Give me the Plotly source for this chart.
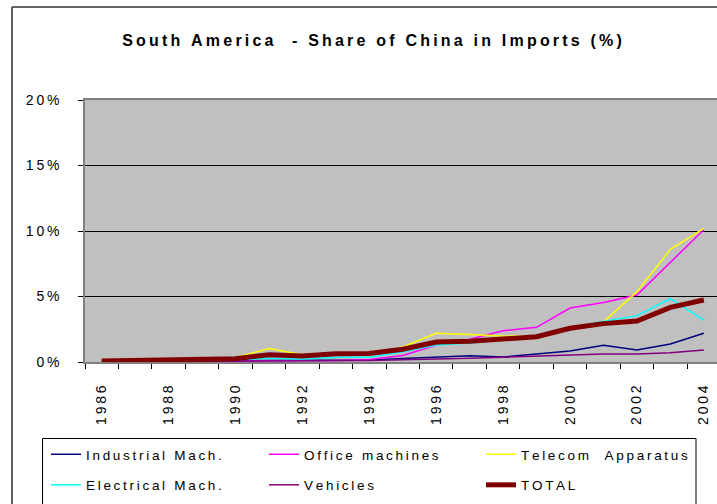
import plotly.graph_objects as go

# Share of China in South American imports, by product group (%)
years = list(range(1986, 2005))

industrial = [0.05, 0.06, 0.07, 0.07, 0.10, 0.12, 0.12, 0.12, 0.15, 0.26,
              0.38, 0.48, 0.38, 0.61, 0.84, 1.27, 0.92, 1.37, 2.19]
office = [0.02, 0.02, 0.03, 0.03, 0.05, 0.10, 0.12, 0.12, 0.20, 0.50,
          1.30, 1.73, 2.39, 2.65, 4.12, 4.55, 5.11, 7.61, 10.10]
telecom = [0.03, 0.05, 0.08, 0.10, 0.35, 1.03, 0.55, 0.60, 0.62, 1.15,
           2.19, 2.09, 1.98, 1.95, 2.55, 3.05, 5.37, 8.60, 10.20]
electrical = [0.03, 0.05, 0.06, 0.08, 0.15, 0.28, 0.22, 0.36, 0.36, 0.78,
              1.30, 1.45, 1.70, 1.95, 2.65, 3.08, 3.54, 4.83, 3.20]
vehicles = [0.02, 0.03, 0.04, 0.04, 0.05, 0.08, 0.08, 0.10, 0.12, 0.18,
            0.22, 0.28, 0.36, 0.43, 0.53, 0.61, 0.61, 0.71, 0.92]
total = [0.08, 0.13, 0.15, 0.15, 0.25, 0.55, 0.45, 0.63, 0.65, 0.97,
         1.52, 1.58, 1.72, 1.93, 2.57, 2.93, 3.13, 4.17, 4.73]

y_ticks = [0, 5, 10, 15, 20]
x_label_years = list(range(1986, 2005, 2))

FONT = "Liberation Sans, Arial, sans-serif"
GAP = "\u2009"


def spread(text):
    """Letter-spaced text, as in the original spreadsheet chart."""
    return GAP.join(text.replace(" ", "\u00a0"))


W, H = 717, 504
L, R, T, B = 85, 0, 100, 142
PW, PH = W - L - R, H - T - B


def px(x):
    return (x - L) / PW


def py(y):
    return (H - B - y) / PH


# (name, values, colour, width, legend column)
series = [
    ("Industrial Mach.", industrial, "#000080", 1.5, "legend"),
    ("Office machines", office, "#FF00FF", 1.5, "legend2"),
    ("Telecom  Apparatus", telecom, "#FFFF00", 1.5, "legend3"),
    ("Electrical Mach.", electrical, "#00FFFF", 1.5, "legend"),
    ("Vehicles", vehicles, "#800080", 1.5, "legend2"),
    ("TOTAL", total, "#800000", 5, "legend3"),
]

fig = go.Figure()
for name, vals, color, width, leg in series:
    fig.add_trace(go.Scatter(
        x=years, y=vals, mode="lines", name=spread(name),
        line=dict(color=color, width=width), legend=leg, legendgroup=name,
    ))

legend_common = dict(
    orientation="v", xanchor="left", yanchor="top",
    xref="container", yref="container",
    font=dict(family=FONT, size=13.5, color="#000"),
    tracegroupgap=10, bgcolor="rgba(0,0,0,0)", borderwidth=0,
    itemclick=False, itemdoubleclick=False,
)

LEG_TOP = 1 - 439 / H

fig.update_layout(
    width=W, height=H,
    margin=dict(l=L, r=R, t=T, b=B, pad=0, autoexpand=False),
    paper_bgcolor="white", plot_bgcolor="#C0C0C0",
    font=dict(family=FONT, color="#000"),
    title=dict(text="<b>" + spread("South America  - Share of China in Imports (%)") + "</b>",
               x=px(372), xref="paper", xanchor="center",
               y=(H - 40) / H, yanchor="middle",
               font=dict(family=FONT, size=16, color="#000")),
    showlegend=True,
    legend=dict(x=46 / W, y=LEG_TOP, **legend_common),
    legend2=dict(x=264 / W, y=LEG_TOP, **legend_common),
    legend3=dict(x=481 / W, y=LEG_TOP, **legend_common),
    xaxis=dict(
        range=[1985.5, 1985.5 + PW / 33.45],
        tickmode="array", tickvals=x_label_years,
        ticktext=[spread(str(v)) for v in x_label_years],
        tickangle=-90, ticks="outside", ticklen=0,
        ticklabelstandoff=16,
        tickfont=dict(family=FONT, size=14, color="#000"),
        minor=dict(tickmode="array",
                   tickvals=[v - 0.5 for v in years] + [years[-1] + 0.5],
                   ticks="outside", ticklen=5, tickcolor="#000", tickwidth=1,
                   showgrid=False),
        showgrid=False, zeroline=False,
        showline=True, linecolor="#808080", linewidth=1.5, mirror=True,
        automargin=False, fixedrange=True,
    ),
    yaxis=dict(
        range=[0, 20],
        tickmode="array", tickvals=y_ticks,
        ticktext=[spread(f"{v}%") for v in y_ticks],
        ticks="outside", ticklen=5, tickcolor="#000", tickwidth=1,
        ticklabelstandoff=16,
        tickfont=dict(family=FONT, size=14, color="#000"),
        showgrid=True, gridcolor="#000", gridwidth=1,
        zeroline=False,
        showline=True, linecolor="#808080", linewidth=1.5,
        automargin=False, fixedrange=True,
    ),
    shapes=[
        # outer chart frame (top and left edges)
        dict(type="line", xref="paper", yref="paper",
             x0=px(12), x1=px(W + 5), y0=py(7), y1=py(7),
             line=dict(color="#303030", width=1.5), layer="above"),
        dict(type="line", xref="paper", yref="paper",
             x0=px(12), x1=px(12), y0=py(7), y1=py(H + 5),
             line=dict(color="#303030", width=1.5), layer="above"),
        # legend box
        dict(type="rect", xref="paper", yref="paper",
             x0=px(42.5), x1=px(696), y0=py(438.5), y1=py(H + 10),
             line=dict(color="#000", width=1), fillcolor="rgba(0,0,0,0)",
             layer="above"),
    ],
)

fig.write_html("out.html")
